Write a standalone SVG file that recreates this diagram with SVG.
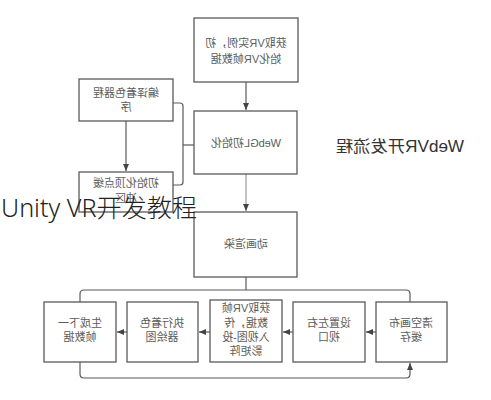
<svg xmlns="http://www.w3.org/2000/svg" width="491" height="400" viewBox="0 0 491 400">
<style>
.box{fill:#fff;stroke:#5a5a5a;stroke-width:1.3}
.t{font-family:"Liberation Sans","Noto Sans CJK SC",sans-serif;font-size:11px;fill:#5c5c5c;text-anchor:middle}
.ln{fill:none;stroke:#5a5a5a;stroke-width:1.2}
.lg{fill:none;stroke:#9a9a9a;stroke-width:1.2}
.title{font-family:"Liberation Sans","Noto Sans CJK SC",sans-serif;font-size:16px;fill:#333;text-anchor:middle}
.wm{font-family:"Noto Sans","Noto Sans CJK SC",sans-serif;font-size:25px;font-weight:300;fill:#222}
</style>
<defs>
<marker id="ah" markerWidth="8" markerHeight="8" refX="7" refY="4" orient="auto" markerUnits="userSpaceOnUse">
<path d="M0,1 L7,4 L0,7 Z" fill="#444"/>
</marker>
</defs>
<rect width="491" height="400" fill="#fff"/>
<g id="connectors">
<line class="ln" x1="246" y1="82" x2="246" y2="110" marker-end="url(#ah)"/>
<line class="ln" x1="126" y1="121" x2="126" y2="171" marker-end="url(#ah)"/>
<path class="ln" d="M173,103 H180 Q183,103 183,106 V182 Q183,185 180,185 H173"/>
<line class="ln" x1="183" y1="145" x2="194" y2="145"/>
<line class="lg" x1="246" y1="174" x2="246" y2="211" marker-end="url(#ah)"/>
<line class="ln" x1="246" y1="277" x2="246" y2="290"/>
<path class="ln" d="M80,302 V294 Q80,290 84,290 H406 Q410,290 410,294 V302"/>
<path class="ln" d="M80,362 V374 Q80,378 84,378 H406 Q410,378 410,374 V363" marker-end="url(#ah)"/>
<line class="ln" x1="127" y1="332" x2="117" y2="332" marker-end="url(#ah)"/>
<line class="ln" x1="210" y1="332" x2="199" y2="332" marker-end="url(#ah)"/>
<line class="ln" x1="293" y1="332" x2="283" y2="332" marker-end="url(#ah)"/>
<line class="ln" x1="376" y1="332" x2="366" y2="332" marker-end="url(#ah)"/>
</g>
<g id="n-init-vr">
<rect class="box" x="194" y="18" width="104" height="64"/>
<text class="t" transform="translate(246,47) scale(-1,1)">获取VR实例，初</text>
<text class="t" transform="translate(246,63) scale(-1,1)">始化VR帧数据</text>
</g>
<g id="n-webgl">
<rect class="box" x="194" y="111" width="103" height="63"/>
<text class="t" transform="translate(246,147) scale(-1,1)">WebGL初始化</text>
</g>
<g id="n-compile">
<rect class="box" x="79" y="79" width="94" height="42"/>
<text class="t" transform="translate(126,97) scale(-1,1)">编译着色器程</text>
<text class="t" transform="translate(126,111) scale(-1,1)">序</text>
</g>
<g id="n-buffer">
<rect class="box" x="79" y="172" width="94" height="40"/>
<text class="t" transform="translate(126,187) scale(-1,1)">初始化顶点缓</text>
<text class="t" transform="translate(126,202) scale(-1,1)">冲区</text>
</g>
<g id="n-render">
<rect class="box" x="194" y="212" width="103" height="65"/>
<text class="t" transform="translate(246,248) scale(-1,1)">动画渲染</text>
</g>
<g id="n-clear">
<rect class="box" x="376" y="302" width="71" height="60"/>
<text class="t" transform="translate(411,327) scale(-1,1)">清空画布</text>
<text class="t" transform="translate(411,341) scale(-1,1)">缓存</text>
</g>
<g id="n-viewport">
<rect class="box" x="293" y="302" width="72" height="60"/>
<text class="t" transform="translate(329,327) scale(-1,1)">设置左右</text>
<text class="t" transform="translate(329,341) scale(-1,1)">视口</text>
</g>
<g id="n-frame">
<rect class="box" x="210" y="300" width="72" height="62"/>
<text class="t" transform="translate(246,312) scale(-1,1)">获取VR帧</text>
<text class="t" transform="translate(246,327) scale(-1,1)">数据，传</text>
<text class="t" transform="translate(246,341) scale(-1,1)">入视图-投</text>
<text class="t" transform="translate(246,355) scale(-1,1)">影矩阵</text>
</g>
<g id="n-draw">
<rect class="box" x="127" y="302" width="71" height="60"/>
<text class="t" transform="translate(162,327) scale(-1,1)">执行着色</text>
<text class="t" transform="translate(162,341) scale(-1,1)">器绘图</text>
</g>
<g id="n-next">
<rect class="box" x="44" y="302" width="72" height="60"/>
<text class="t" transform="translate(80,327) scale(-1,1)">生成下一</text>
<text class="t" transform="translate(80,341) scale(-1,1)">帧数据</text>
</g>
<text class="title" transform="translate(400,152) scale(-1,1)" textLength="128" lengthAdjust="spacingAndGlyphs">WebVR开发流程</text>
<text class="wm" x="1" y="217" textLength="196" lengthAdjust="spacingAndGlyphs">Unity VR开发教程</text>
</svg>
